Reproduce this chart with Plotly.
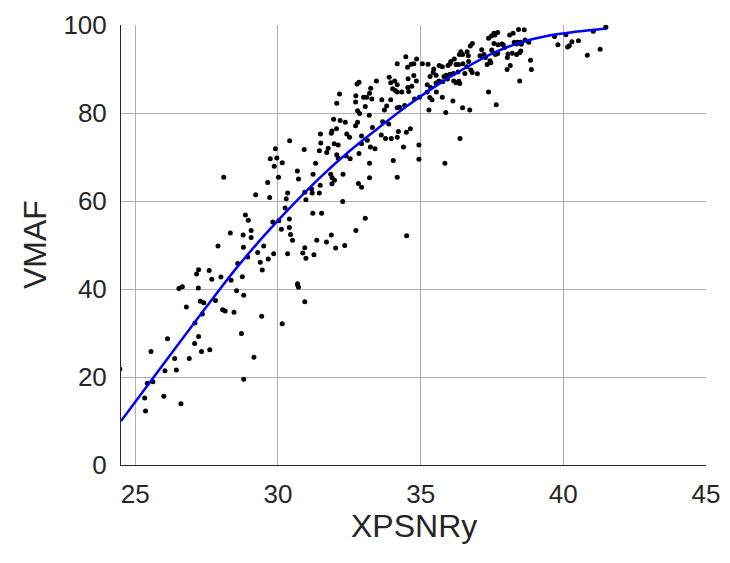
import plotly.graph_objects as go

# XPSNRy vs VMAF samples
xpsnr = [
    28.10, 28.33, 27.90, 28.59, 27.22, 27.15, 27.59, 27.68, 28.00, 28.36,
    26.53, 26.65, 27.21, 28.55, 27.28, 27.40, 27.81, 26.79, 28.06, 28.15,
    27.35, 28.46, 27.09, 26.13, 27.22, 27.08, 25.55, 27.32, 27.61, 26.38,
    26.89, 24.46, 26.04, 26.44, 25.42, 25.62, 25.33, 26.00, 26.60, 25.36,
    32.84, 32.77, 32.16, 32.73, 33.00, 32.72, 32.06, 32.79, 32.86, 31.95,
    32.18, 32.36, 32.79, 32.72, 32.05, 31.89, 31.87, 31.49, 32.41, 32.51,
    32.93, 30.41, 31.50, 31.97, 32.11, 29.91, 30.92, 31.76, 31.45, 32.93,
    29.73, 29.96, 30.15, 29.87, 31.71, 32.06, 32.11, 32.39, 32.53, 32.84,
    31.32, 30.68, 30.72, 31.23, 31.85, 31.90, 32.28, 30.02, 31.98, 31.89,
    29.64, 31.48, 32.82, 32.93, 31.18, 30.94, 31.20, 31.45, 30.34, 29.22,
    29.71, 30.29, 30.98, 32.27, 30.25, 28.86, 31.22, 31.53,
    28.96, 29.82, 30.03, 30.40, 28.78, 29.06, 29.06, 30.12, 30.40, 30.44,
    30.51, 31.36, 31.87, 31.70, 32.73, 28.79, 29.50, 30.94, 30.87, 30.98,
    32.02, 32.34, 29.29, 29.85, 30.34, 31.26, 28.94, 29.66, 29.38, 29.45,
    28.75, 30.69,
    30.69, 30.72, 28.80, 30.94, 29.43, 30.15, 28.72, 29.16, 28.80,
    34.48, 34.18, 34.54, 34.76, 34.86, 34.67, 35.06, 33.45, 33.90, 33.95,
    34.09, 34.18, 34.02, 34.11, 34.18, 34.56, 34.76, 34.85, 34.55, 34.69,
    34.58, 34.34, 33.25, 33.21, 33.29, 33.11, 33.06, 33.64, 33.95, 33.81,
    33.73, 34.18, 34.26, 34.44, 34.79, 34.96, 33.20, 33.67, 33.31, 33.88,
    34.64, 34.50, 34.22, 33.62, 33.77, 33.97, 34.18, 33.13, 33.24, 33.40,
    34.40, 34.94,
    36.81, 36.74, 37.38, 36.41, 36.47, 36.36, 36.63, 36.67, 36.18, 36.06,
    36.03, 35.96, 37.14, 37.22, 37.08, 36.24, 36.33, 36.48, 35.65, 35.76,
    35.46, 35.26, 36.68, 36.62, 36.76, 37.27, 37.33, 37.43, 36.31, 36.15,
    36.03, 35.90, 35.82, 36.55, 36.81, 36.99, 35.44, 35.54, 35.33, 35.64,
    35.54, 35.94, 35.77, 36.16, 36.24, 36.34, 35.23, 35.35, 35.23, 35.32,
    35.40, 35.55, 35.76, 36.37, 37.38, 36.13, 36.47, 36.72, 35.29, 35.88,
    36.38,
    33.21, 34.04, 34.94, 35.85, 33.21, 34.18, 33.06, 34.51,
    37.57, 37.70, 37.48, 37.60, 38.43, 38.63, 38.24, 38.12, 38.28, 38.39,
    38.50, 38.36, 38.53, 38.66, 38.79, 37.57, 37.71, 37.85, 37.94, 37.89,
    37.49, 37.54, 37.62, 37.70, 38.06, 38.21, 38.36, 38.51, 38.47, 37.46,
    38.04, 38.85, 38.14, 38.03, 38.88, 38.47, 37.65,
    39.69, 40.09, 41.05, 41.49, 39.81, 40.15, 40.21, 40.30, 40.53, 40.84,
    41.29,
]
vmaf = [
    65.4, 52.7, 49.8, 45.8, 44.4, 43.4, 44.2, 42.2, 42.7, 42.0,
    40.1, 40.5, 40.2, 39.6, 37.2, 36.9, 37.4, 35.9, 35.3, 35.0,
    34.3, 34.7, 32.3, 28.7, 29.2, 27.6, 25.8, 25.8, 26.2, 24.2,
    24.2, 21.8, 21.4, 21.6, 18.6, 18.9, 15.2, 15.6, 13.9, 12.3,
    87.0, 86.6, 84.3, 83.9, 83.6, 82.5, 82.2, 80.5, 79.9, 78.6,
    78.3, 77.9, 77.9, 77.1, 76.4, 75.9, 75.4, 75.2, 75.2, 74.5,
    74.8, 73.7, 73.2, 73.0, 72.7, 71.9, 71.7, 72.0, 71.4, 73.0,
    69.6, 69.8, 68.7, 67.9, 71.0, 70.5, 69.8, 70.2, 69.6, 70.8,
    68.6, 66.8, 65.0, 66.1, 66.1, 65.3, 66.1, 65.4, 64.7, 63.9,
    64.2, 63.6, 64.0, 63.1, 62.7, 62.0, 61.8, 61.8, 61.8, 61.4,
    60.8, 60.5, 60.3, 59.9, 58.4, 56.8, 57.2, 57.2,
    55.6, 55.2, 55.5, 55.9, 52.3, 53.3, 51.7, 53.6, 54.0, 52.4,
    51.1, 51.1, 52.3, 50.7, 53.3, 49.5, 49.8, 49.4, 48.2, 47.0,
    49.3, 49.9, 48.3, 48.0, 48.0, 47.8, 47.3, 46.8, 46.1, 44.3,
    42.8, 41.2,
    40.9, 40.4, 38.6, 37.1, 33.8, 32.1, 29.9, 24.5, 19.5,
    92.8, 91.2, 90.4, 91.2, 92.3, 91.1, 91.2, 87.3, 88.1, 86.9,
    87.3, 86.4, 85.5, 85.1, 84.8, 87.8, 88.5, 87.3, 85.8, 86.1,
    84.9, 84.8, 85.6, 84.5, 83.2, 83.6, 81.5, 83.0, 83.0, 81.6,
    80.7, 81.2, 81.3, 81.7, 83.2, 83.6, 79.5, 78.0, 76.7, 77.5,
    76.4, 75.6, 75.8, 75.0, 74.2, 74.2, 74.5, 73.8, 72.3, 71.9,
    72.3, 72.7,
    95.8, 95.2, 97.0, 93.9, 93.3, 93.3, 93.9, 93.0, 92.3, 91.7,
    91.2, 90.8, 94.4, 93.3, 93.0, 91.0, 91.0, 91.2, 90.8, 90.5,
    90.0, 91.1, 91.7, 90.5, 89.8, 92.6, 91.0, 91.9, 89.3, 89.0,
    88.8, 88.6, 88.3, 89.0, 89.2, 88.9, 89.2, 88.6, 88.3, 87.3,
    86.8, 87.7, 87.1, 87.3, 86.9, 87.2, 86.4, 85.8, 84.8, 83.5,
    83.0, 84.8, 83.6, 86.7, 84.8, 82.7, 81.2, 80.7, 80.7, 80.1,
    74.2,
    68.6, 69.2, 69.5, 68.6, 65.3, 65.4, 56.1, 52.1,
    98.1, 98.3, 97.5, 97.7, 99.0, 98.9, 98.1, 97.7, 96.1, 96.1,
    96.1, 95.7, 95.6, 96.6, 96.1, 95.8, 95.5, 95.7, 94.9, 95.5,
    94.3, 93.7, 93.3, 93.5, 93.4, 93.6, 93.3, 94.1, 93.7, 91.4,
    92.6, 92.0, 90.8, 89.9, 89.9, 87.3, 81.9,
    97.4, 97.8, 98.6, 99.5, 95.5, 95.0, 95.3, 96.2, 96.4, 93.1,
    94.5,
]

# Fitted trend curve
fit_x = [24.5, 25.5, 26.5, 27.5, 28.5, 29.5, 30.5, 31.5, 32.5,
         33.5, 34.5, 35.5, 36.5, 37.5, 38.5, 39.5, 40.5, 41.5]
fit_y = [10.0, 18.7, 27.4, 36.0, 44.4, 52.0, 59.0, 65.5, 71.3,
         76.5, 81.5, 86.0, 90.0, 93.5, 96.0, 97.6, 98.5, 99.2]

x_ticks = [25, 30, 35, 40, 45]
y_ticks = [0, 20, 40, 60, 80, 100]

font_family = "Liberation Sans, Arial, sans-serif"
text_color = "#262626"
grid_color = "#b0b0b0"

# plot-area geometry in pixels
W, H = 730, 563
ML, MR, MT, MB = 121, 24, 25, 98
plot_w = W - ML - MR
plot_h = H - MT - MB

fig = go.Figure()
fig.add_trace(go.Scatter(
    x=xpsnr, y=vmaf, mode="markers",
    marker=dict(color="black", size=5, line=dict(width=0)),
    showlegend=False, hoverinfo="skip",
))
fig.add_trace(go.Scatter(
    x=fit_x, y=fit_y, mode="lines",
    line=dict(color="#0000ff", width=2.5, shape="spline"),
    showlegend=False, hoverinfo="skip",
))

fig.update_layout(
    width=W, height=H,
    margin=dict(l=ML, r=MR, t=MT, b=MB),
    paper_bgcolor="white", plot_bgcolor="white",
    font=dict(family=font_family, color=text_color, size=26),
    annotations=[
        # axis titles
        dict(text="XPSNRy", xref="paper", yref="paper",
             x=0.5, y=-(526 - (H - MB)) / plot_h,
             xanchor="center", yanchor="middle",
             showarrow=False, font=dict(size=32)),
        dict(text="VMAF", xref="paper", yref="paper",
             x=-(ML - 35) / plot_w, y=0.5,
             xanchor="center", yanchor="middle", textangle=-90,
             showarrow=False, font=dict(size=32)),
    ],
)

fig.update_xaxes(
    range=[24.5, 45], tickvals=x_ticks, ticktext=[str(v) for v in x_ticks],
    showgrid=True, gridcolor=grid_color, gridwidth=1,
    showline=True, linecolor=text_color, linewidth=1, mirror=False,
    ticks="", zeroline=False, ticklabelstandoff=6, automargin=False,
)
fig.update_yaxes(
    range=[0, 100], tickvals=y_ticks, ticktext=[str(v) for v in y_ticks],
    showgrid=True, gridcolor=grid_color, gridwidth=1,
    showline=True, linecolor=text_color, linewidth=1, mirror=False,
    ticks="", zeroline=False, ticklabelstandoff=8, automargin=False,
)

fig.write_html("out.html")
